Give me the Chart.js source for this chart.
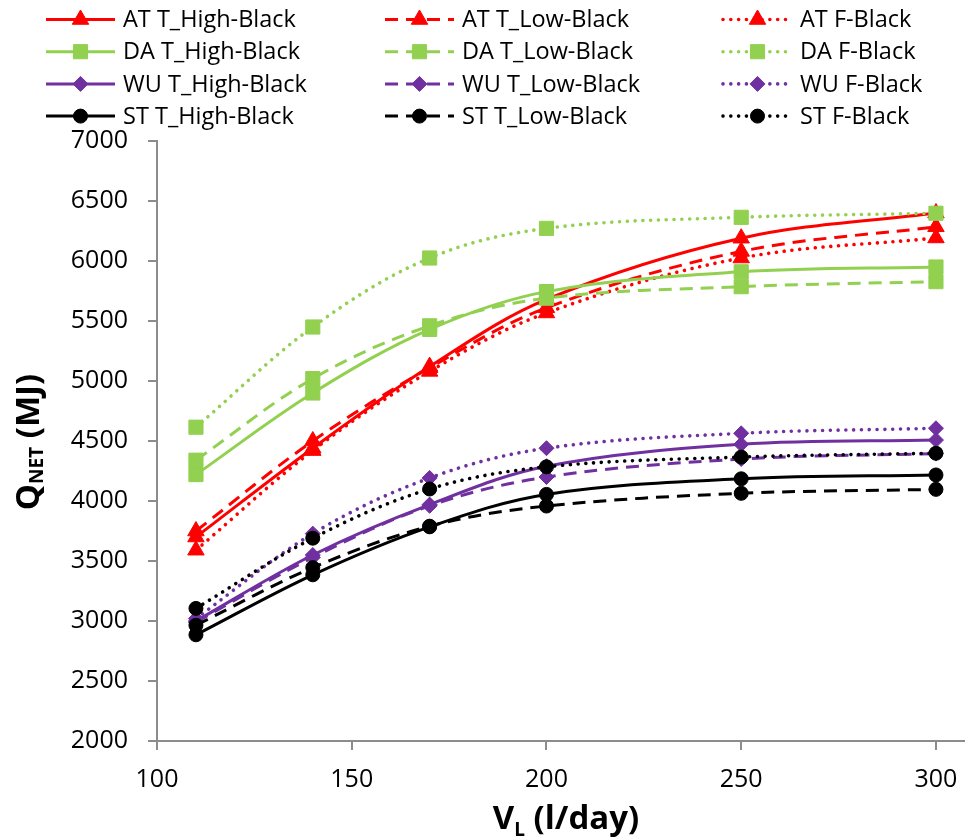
<!DOCTYPE html>
<html>
<head>
<meta charset="utf-8">
<script src="https://cdn.jsdelivr.net/npm/chart.js@4"></script>
<style>
  html, body { margin: 0; padding: 0; background: #fff; }
  canvas { display: block; }
</style>
</head>
<body>
<canvas id="c" width="965" height="839"></canvas>
<script>
// ---- data ----
const vl = [110, 140, 170, 200, 250, 300];
const xTicks = [100, 150, 200, 250, 300];
const yTicks = [2000, 2500, 3000, 3500, 4000, 4500, 5000, 5500, 6000, 6500, 7000];

const seriesLabels = [
  'AT T_High-Black', 'AT T_Low-Black', 'AT F-Black',
  'DA T_High-Black', 'DA T_Low-Black', 'DA F-Black',
  'WU T_High-Black', 'WU T_Low-Black', 'WU F-Black',
  'ST T_High-Black', 'ST T_Low-Black', 'ST F-Black'
];

const atHigh = [3700, 4440, 5120, 5680, 6190, 6400];
const atLow  = [3750, 4500, 5110, 5610, 6080, 6285];
const atF    = [3590, 4420, 5080, 5567, 6025, 6192];
const daHigh = [4220, 4900, 5430, 5745, 5910, 5950];
const daLow  = [4340, 5020, 5460, 5690, 5786, 5828];
const daF    = [4615, 5450, 6025, 6272, 6364, 6398];
const wuHigh = [3000, 3550, 3970, 4290, 4472, 4508];
const wuLow  = [2990, 3530, 3960, 4200, 4350, 4395];
const wuF    = [3020, 3728, 4192, 4440, 4564, 4606];
const stHigh = [2885, 3385, 3785, 4055, 4185, 4217];
const stLow  = [2965, 3445, 3790, 3958, 4064, 4097];
const stF    = [3105, 3690, 4100, 4285, 4366, 4398];

const seriesValues = [atHigh, atLow, atF, daHigh, daLow, daF, wuHigh, wuLow, wuF, stHigh, stLow, stF];

// ---- styles ----
const groupColors = ['#FF0000', '#92D050', '#7030A0', '#000000'];
const groupMarkers = [
  { style: 'triangle', radius: 9.5 },
  { style: 'rect', radius: 10 },
  { style: 'rectRot', radius: 7.5 },
  { style: 'circle', radius: 7 }
];
const lineKinds = [
  { dash: [], width: 3, cap: 'butt' },
  { dash: [13, 8], width: 3, cap: 'butt' },
  { dash: [0.01, 7.8], width: 3.6, cap: 'round' }
];

const FONT = "'Open Sans', 'DejaVu Sans', sans-serif";

const datasets = seriesValues.map((vals, i) => {
  const g = Math.floor(i / 3), k = i % 3;
  const col = groupColors[g];
  return {
    label: seriesLabels[i],
    data: vl.map((x, j) => ({ x: x, y: vals[j] })),
    borderColor: col,
    backgroundColor: col,
    borderWidth: lineKinds[k].width,
    borderDash: lineKinds[k].dash,
    borderCapStyle: lineKinds[k].cap,
    pointStyle: groupMarkers[g].style,
    pointRadius: groupMarkers[g].radius,
    pointBorderWidth: 1,
    pointBackgroundColor: col,
    pointBorderColor: col,
    tension: 0.35,
    fill: false,
    clip: false,
    order: seriesValues.length - i
  };
});

function drawMarker(ctx, style, r, x, y, col) {
  ctx.save();
  ctx.setLineDash([]);
  ctx.fillStyle = col; ctx.strokeStyle = col; ctx.lineWidth = 1;
  if (Chart.helpers && Chart.helpers.drawPoint) {
    Chart.helpers.drawPoint(ctx, { pointStyle: style, radius: r, rotation: 0, borderWidth: 1 }, x, y);
  }
  ctx.restore();
}

const legendPlugin = {
  id: 'customLegend',
  afterDraw(chart) {
    const ctx = chart.ctx;
    const colX = [46, 385, 723];
    const rowY0 = 19.5, rowStep = 32.2;
    chart.data.datasets.forEach((ds, i) => {
      const r = Math.floor(i / 3), c = i % 3;
      const x0 = colX[c], y = rowY0 + r * rowStep;
      ctx.save();
      ctx.strokeStyle = ds.borderColor;
      ctx.lineWidth = ds.borderWidth;
      ctx.lineCap = ds.borderCapStyle;
      ctx.setLineDash(ds.borderDash);
      ctx.beginPath();
      ctx.moveTo(x0, y); ctx.lineTo(x0 + 69, y);
      ctx.stroke();
      ctx.restore();
      drawMarker(ctx, ds.pointStyle, ds.pointRadius, x0 + 34.5, y, ds.borderColor);
      ctx.save();
      ctx.fillStyle = '#000';
      ctx.font = "23.5px " + FONT;
      ctx.textBaseline = 'middle';
      ctx.textAlign = 'left';
      ctx.fillText(ds.label, x0 + 77, y + 1);
      ctx.restore();
    });
  }
};

function drawSubText(ctx, parts, cx, baseY) {
  let total = 0;
  parts.forEach(p => { ctx.font = p.font; p.w = ctx.measureText(p.t).width; total += p.w; });
  let x = cx - total / 2;
  parts.forEach(p => {
    ctx.font = p.font;
    ctx.fillText(p.t, x, baseY + p.dy);
    x += p.w;
  });
}

const titlePlugin = {
  id: 'axisTitles',
  afterDraw(chart) {
    const ctx = chart.ctx;
    ctx.save();
    ctx.fillStyle = '#000';
    ctx.textBaseline = 'alphabetic';
    ctx.textAlign = 'left';
    const big = "bold 33px " + FONT, small = "bold 19px " + FONT;
    drawSubText(ctx, [
      { t: 'V', font: big, dy: 0 },
      { t: 'L', font: small, dy: 7 },
      { t: ' (l/day)', font: big, dy: 0 }
    ], 566, 829);
    ctx.translate(39, 442);
    ctx.rotate(-Math.PI / 2);
    drawSubText(ctx, [
      { t: 'Q', font: big, dy: 0 },
      { t: 'NET', font: small, dy: 4 },
      { t: ' (MJ)', font: big, dy: 0 }
    ], 0, 0);
    ctx.restore();
  }
};

const axisColor = '#8c8c8c';

new Chart(document.getElementById('c'), {
  type: 'line',
  data: { datasets: datasets },
  options: {
    responsive: false,
    animation: false,
    devicePixelRatio: 1,
    layout: { autoPadding: false, padding: { top: 141, left: 0, right: 1, bottom: 0 } },
    plugins: { legend: { display: false }, tooltip: { enabled: false }, title: { display: false } },
    scales: {
      x: {
        type: 'linear',
        min: 100,
        max: 307.2,
        afterFit(scale) { scale.height = 98; scale.paddingLeft = 0; scale.paddingRight = 0; },
        afterBuildTicks(scale) { scale.ticks = xTicks.map(v => ({ value: v })); },
        ticks: {
          includeBounds: false,
          color: '#000',
          font: { family: FONT, size: 25 },
          padding: 15,
          maxRotation: 0,
          callback: v => String(v)
        },
        grid: { drawOnChartArea: false, drawTicks: true, tickLength: 9, color: axisColor, lineWidth: 2 },
        border: { display: true, color: axisColor, width: 2 }
      },
      y: {
        type: 'linear',
        min: 2000,
        max: 7000,
        afterFit(scale) { scale.width = 157; },
        afterBuildTicks(scale) { scale.ticks = yTicks.map(v => ({ value: v })); },
        ticks: {
          color: '#000',
          font: { family: FONT, size: 25 },
          padding: 20,
          callback: v => String(v)
        },
        grid: { drawOnChartArea: false, drawTicks: true, tickLength: 9, color: axisColor, lineWidth: 2 },
        border: { display: true, color: axisColor, width: 2 }
      }
    }
  },
  plugins: [legendPlugin, titlePlugin]
});
</script>
</body>
</html>
